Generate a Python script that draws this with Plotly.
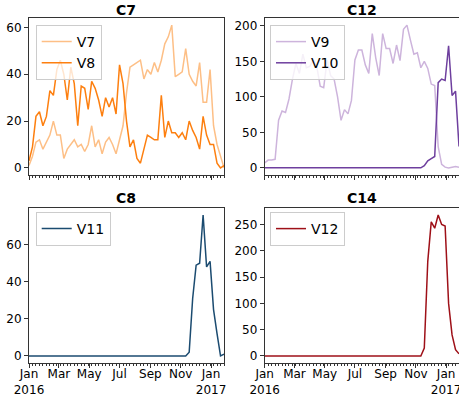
import pandas as pd
import plotly.graph_objects as go

dates = pd.date_range("2016-01-01", periods=57, freq="7D")

v7 = [1, 5, 11, 12, 8, 11, 14, 20, 14, 14, 4, 8, 10, 12, 9, 10, 7, 10, 18, 9,
      12, 6, 11, 13, 10, 6, 12, 18, 32, 43, 44, 45, 46, 38, 42, 40, 45, 41, 46, 53,
      56, 61, 39, 40, 41, 51, 40, 37, 35, 45, 28, 28, 42, 18, 10, 5, 0]
v8 = [3, 9, 22, 24, 18, 22, 33, 31, 42, 46, 40, 29, 43, 36, 18, 35, 34, 25, 37, 34,
      29, 22, 30, 26, 30, 23, 44, 36, 20, 9, 12, 4, 2, 8, 14, 13, 12, 12, 31, 13,
      20, 15, 15, 13, 15, 12, 20, 16, 13, 8, 22, 14, 10, 10, 2, 0, 1]
v9 = [7, 11, 11, 12, 67, 80, 78, 97, 125, 147, 133, 160, 141, 143, 152, 143, 115, 113, 152, 130,
      125, 100, 67, 82, 76, 95, 152, 166, 166, 145, 133, 189, 155, 130, 189, 168, 168, 147, 173, 151,
      195, 201, 180, 160, 162, 141, 150, 140, 118, 116, 30, 5, 1, 0, 1, 2, 1]
v10 = [0] * 46 + [3, 10, 13, 16, 120, 125, 123, 172, 102, 108, 30]
v11 = [0] * 46 + [2, 31, 49, 50, 76, 48, 51, 25, 12, 0, 1]
v12 = [0] * 46 + [15, 180, 255, 243, 268, 250, 247, 100, 40, 12, 4]

tick_vals = ["2016-01-01", "2016-03-01", "2016-05-01", "2016-07-01",
             "2016-09-01", "2016-11-01", "2017-01-01"]
tick_text = ["Jan<br>2016", "Mar", "May", "Jul", "Sep", "Nov", "Jan<br>2017"]

titles = ["C7", "C12", "C8", "C14"]

W, H = 459, 398
FONT = "DejaVu Sans"

def px_x(p):
    return p / W

def px_y(p):
    return 1 - p / H

dom_x = [[px_x(29), px_x(224)], [px_x(264.7), 1.0]]
dom_y = [[px_y(175), px_y(18)], [px_y(363), px_y(208)]]

fig = go.Figure()

panels = [
    ("x", "y", 0, 0, [("V7", v7, "#fdbf86"), ("V8", v8, "#fd7f0f")], [-3.05, 64.05], 20, "legend"),
    ("x2", "y2", 1, 0, [("V9", v9, "#cdb4dc"), ("V10", v10, "#6e3f9e")], [-10.05, 211.05], 50, "legend2"),
    ("x3", "y3", 0, 1, [("V11", v11, "#1b4b70")], [-3.8, 79.8], 20, "legend3"),
    ("x4", "y4", 1, 1, [("V12", v12, "#9e1018")], [-13.4, 281.4], 50, "legend4"),
]

legend_pos = {
    "legend": (35.7, 25),
    "legend2": (270, 25),
    "legend3": (35.7, 212),
    "legend4": (270, 212),
}

layout = dict(
    width=W, height=H,
    margin=dict(l=0, r=0, t=0, b=0, autoexpand=False),
    paper_bgcolor="white", plot_bgcolor="white",
    font=dict(family=FONT, size=12, color="black"),
    showlegend=True,
)

for i, (xa, ya, col, row, series, yr, ydt, leg) in enumerate(panels):
    for name, vals, color in series:
        fig.add_trace(go.Scatter(
            x=dates, y=vals, mode="lines", name=name,
            line=dict(color=color, width=1.5),
            xaxis=xa, yaxis=ya, legend=leg,
        ))
    xkey = "xaxis" if xa == "x" else "xaxis" + xa[1:]
    ykey = "yaxis" if ya == "y" else "yaxis" + ya[1:]
    layout[xkey] = dict(
        domain=dom_x[col], anchor=ya, automargin=False,
        range=[dates[0], dates[-1]], type="date",
        tickmode="array", tickvals=tick_vals, ticktext=tick_text,
        showticklabels=(row == 1), tickangle=0, ticklabeloverflow="allow",
        ticklabelstandoff=-4,
        ticks="outside", ticklen=4, tickcolor="#333", tickwidth=1,
        minor=dict(ticks="outside", ticklen=2, tickcolor="#333",
                   dtick=7 * 86400000, tick0="2016-01-01"),
        showline=True, linecolor="#333", linewidth=1, mirror=True,
        showgrid=False, zeroline=False,
        tickfont=dict(family=FONT, size=12, color="black"),
    )
    layout[ykey] = dict(
        domain=dom_y[row], anchor=xa, automargin=False,
        range=yr, dtick=ydt, tick0=0, ticklabeloverflow="allow",
        ticks="outside", ticklen=4, tickcolor="#333", tickwidth=1,
        showline=True, linecolor="#333", linewidth=1,
        mirror=(col == 0),
        showgrid=False, zeroline=False,
        tickfont=dict(family=FONT, size=12, color="black"),
    )
    lx, ly = legend_pos[leg]
    layout[leg] = dict(
        x=px_x(lx), y=px_y(ly), xanchor="left", yanchor="top",
        bgcolor="rgba(255,255,255,0.8)", bordercolor="#cccccc", borderwidth=1,
        font=dict(family=FONT, size=14, color="black"),
        tracegroupgap=0, itemwidth=30,
    )

annotations = []
title_pos = [(126.5, 10), (362, 10), (126.5, 198), (362, 198)]
for (tx, ty), t in zip(title_pos, titles):
    annotations.append(dict(
        text="<b>%s</b>" % t, x=px_x(tx), y=px_y(ty), xref="paper", yref="paper",
        xanchor="center", yanchor="middle", showarrow=False,
        font=dict(family=FONT, size=14, color="black"),
    ))
layout["annotations"] = annotations

fig.update_layout(**layout)
fig.write_html("out.html", config={"displayModeBar": False},
               post_script="document.body.style.margin='0';document.body.style.overflow='hidden';")
